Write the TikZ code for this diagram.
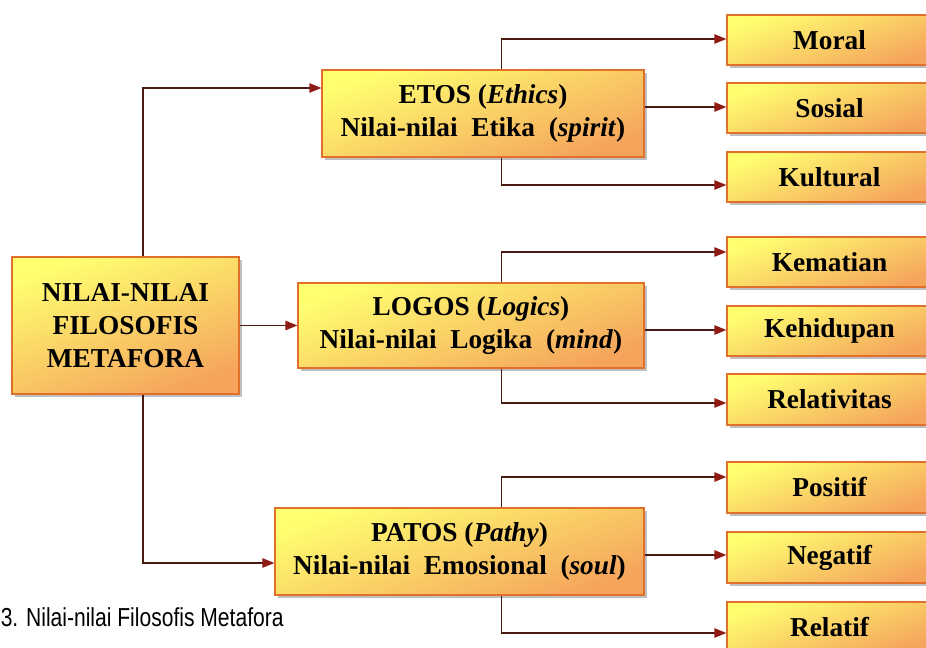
\documentclass[tikz,border=0pt]{standalone}
\usepackage{fontspec}
\setmainfont{Liberation Serif}
\newfontfamily\capfont{Liberation Sans}
\usetikzlibrary{arrows.meta,shadows}
\definecolor{boxline}{HTML}{E0702A}
\definecolor{boxtop}{HTML}{FFFF70}
\definecolor{boxbot}{HTML}{F5A45C}
\definecolor{connc}{HTML}{4A1A12}
\definecolor{tipc}{HTML}{8E1B14}
\newcommand\boxnode[6]{%
  \node[box, minimum width={(#4-#2)*0.75pt}, minimum height={(#5-#3)*0.75pt}]
    (#1) at ({(#2+#4)/2},{(#3+#5)/2}) {#6};}
\begin{document}
\begin{tikzpicture}[x=0.75pt,y=-0.75pt,
  box/.style={draw=boxline, line width=0.9pt, top color=boxtop, bottom color=boxbot,
    shading angle=20, inner sep=0pt, align=center,
    font=\fontsize{20.5}{24.5}\selectfont\bfseries,
    drop shadow={shadow xshift=2.2pt, shadow yshift=-2.2pt, fill=black!55, opacity=0.45}},
  conn/.style={draw=connc, line width=1.1pt,
    -{Triangle[length=9pt,width=7pt,color=tipc]}}]
\clip (0,0) rectangle (926,648);
\fill[white] (0,0) rectangle (926,648);

% main and middle boxes
\boxnode{main}{12}{257}{239}{394}{NILAI-NILAI\\FILOSOFIS\\METAFORA}
\boxnode{etos}{322}{70}{644}{157}{ETOS (\textit{Ethics})\\Nilai-nilai\ \ Etika\ \ (\textit{spirit})}
\boxnode{logos}{298}{283}{644}{368}{LOGOS (\textit{Logics})\\Nilai-nilai\ \ Logika\ \ (\textit{mind})}
\boxnode{patos}{275}{508}{644}{595}{PATOS (\textit{Pathy})\\Nilai-nilai\ \ Emosional\ \ (\textit{soul})}

% right boxes
\boxnode{moral}{727}{15}{932}{65}{Moral}
\boxnode{sosial}{727}{83}{932}{133}{Sosial}
\boxnode{kultural}{727}{152}{932}{202}{Kultural}
\boxnode{kematian}{727}{237}{932}{287}{Kematian}
\boxnode{kehidupan}{727}{306}{932}{356}{Kehidupan}
\boxnode{relativitas}{727}{374}{932}{425}{Relativitas}
\boxnode{positif}{727}{462}{932}{513}{Positif}
\boxnode{negatif}{727}{532}{932}{583}{Negatif}
\boxnode{relatif}{727}{602}{932}{653}{Relatif}

% guide coordinates
\coordinate (xm) at (143,0);
\coordinate (xb) at (501.5,0);
\coordinate (yE) at (0,88);
\coordinate (yP) at (0,563);
\coordinate (y1) at (0,39);
\coordinate (y2) at (0,107);
\coordinate (y3) at (0,185);
\coordinate (y4) at (0,252);
\coordinate (y5) at (0,330);
\coordinate (y6) at (0,403);
\coordinate (y7) at (0,477);
\coordinate (y8) at (0,555);
\coordinate (y9) at (0,633);

% main connectors
\draw[conn] (main.north -| xm) |- (etos.west |- yE);
\draw[conn] (main.east) -- (logos.west);
\draw[conn] (main.south -| xm) |- (patos.west |- yP);

% ETOS
\draw[conn] (etos.north -| xb) |- (moral.west |- y1);
\draw[conn] (etos.east |- y2) -- (sosial.west |- y2);
\draw[conn] (etos.south -| xb) |- (kultural.west |- y3);
% LOGOS
\draw[conn] (logos.north -| xb) |- (kematian.west |- y4);
\draw[conn] (logos.east |- y5) -- (kehidupan.west |- y5);
\draw[conn] (logos.south -| xb) |- (relativitas.west |- y6);
% PATOS
\draw[conn] (patos.north -| xb) |- (positif.west |- y7);
\draw[conn] (patos.east |- y8) -- (negatif.west |- y8);
\draw[conn] (patos.south -| xb) |- (relatif.west |- y9);

% caption
\node[anchor=base west, inner sep=0pt] (cap) at (0.5,627)
  {\scalebox{0.81}[1]{\capfont\fontsize{19.5}{20}\selectfont 3. Nilai-nilai Filosofis Metafora}};
\end{tikzpicture}
\end{document}
